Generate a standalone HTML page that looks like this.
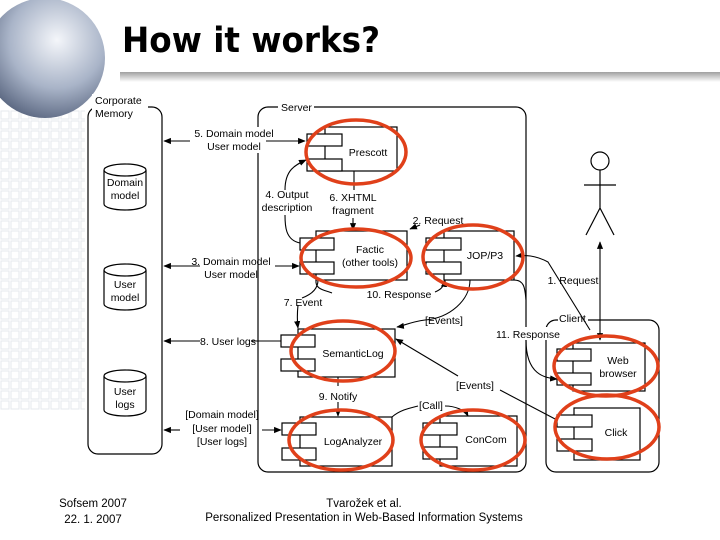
<!DOCTYPE html>
<html><head><meta charset="utf-8"><style>
html,body{margin:0;padding:0;background:#fff;width:720px;height:540px;overflow:hidden}
svg{display:block;font-family:"Liberation Sans",sans-serif}
</style></head><body>
<svg width="720" height="540" viewBox="0 0 720 540" xmlns="http://www.w3.org/2000/svg">
<defs>
<radialGradient id="g" cx="0.6" cy="0.35" r="0.8"><stop offset="0" stop-color="#f4f6fa"/><stop offset="0.5" stop-color="#a9b4c8"/><stop offset="1" stop-color="#3d4a66"/></radialGradient>
<linearGradient id="sh" x1="0" x2="0" y1="0" y2="1"><stop offset="0" stop-color="#777"/><stop offset="1" stop-color="#fff"/></linearGradient>
<marker id="a" viewBox="0 0 10 10" refX="9" refY="5" markerWidth="7" markerHeight="7" orient="auto-start-reverse"><path d="M0,1 L10,5 L0,9z" fill="#000"/></marker>
<pattern id="grid" width="10" height="10" patternUnits="userSpaceOnUse"><rect x="1" y="1" width="8" height="8" fill="none" stroke="#e6e8ee" stroke-width="1"/></pattern>
</defs>
<rect x="0" y="110" width="85" height="300" fill="url(#grid)"/>
<rect x="120" y="72" width="600" height="10" fill="url(#sh)" opacity="0.7"/>
<circle cx="45" cy="58" r="60" fill="url(#g)"/>
<text x="122" y="52" font-size="35" font-weight="bold" font-family="DejaVu Sans,sans-serif" textLength="258" lengthAdjust="spacingAndGlyphs">How it works?</text>

<g fill="none" stroke="#000" stroke-width="1.2">
<rect x="88" y="107" width="74" height="347" rx="10"/>
<rect x="258" y="107" width="268" height="365" rx="10"/>
<rect x="546" y="320" width="113" height="152" rx="10"/>
</g>
<rect x="92" y="94" width="56" height="26" fill="#fff"/>
<rect x="278" y="100" width="36" height="12" fill="#fff"/>
<rect x="558" y="313" width="30" height="12" fill="#fff"/>
<g font-size="10.5" fill="#000">
<text x="95" y="104">Corporate</text><text x="95" y="117">Memory</text>
<text x="281" y="111">Server</text>
<text x="559" y="322">Client</text>
</g>

<g fill="#fff" stroke="#000" stroke-width="1.2">
<path d="M104,170 v34 a21,6 0 0 0 42,0 v-34"/><ellipse cx="125" cy="170" rx="21" ry="6"/>
<path d="M104,270 v34 a21,6 0 0 0 42,0 v-34"/><ellipse cx="125" cy="270" rx="21" ry="6"/>
<path d="M104,376 v34 a21,6 0 0 0 42,0 v-34"/><ellipse cx="125" cy="376" rx="21" ry="6"/>
</g>
<g font-size="10.5" text-anchor="middle">
<text x="125" y="186">Domain</text><text x="125" y="199">model</text>
<text x="125" y="288">User</text><text x="125" y="301">model</text>
<text x="125" y="395">User</text><text x="125" y="408">logs</text>
</g>

<g fill="#fff" stroke="#000" stroke-width="1.2">
<rect x="325" y="127" width="72" height="44"/><rect x="307" y="134" width="35" height="12"/><rect x="307" y="159" width="35" height="12"/>
<rect x="316" y="231" width="91" height="49"/><rect x="300" y="238" width="34" height="12"/><rect x="300" y="262" width="34" height="12"/>
<rect x="444" y="231" width="70" height="49"/><rect x="426" y="238" width="35" height="12"/><rect x="426" y="262" width="35" height="12"/>
<rect x="298" y="329" width="97" height="48"/><rect x="281" y="335" width="34" height="12"/><rect x="281" y="359" width="34" height="12"/>
<rect x="300" y="417" width="92" height="49"/><rect x="282" y="423" width="34" height="12"/><rect x="282" y="448" width="34" height="12"/>
<rect x="440" y="416" width="77" height="50"/><rect x="423" y="423" width="34" height="12"/><rect x="423" y="447" width="34" height="12"/>
<rect x="573" y="343" width="72" height="48"/><rect x="557" y="349" width="34" height="12"/><rect x="557" y="373" width="34" height="12"/>
<rect x="574" y="408" width="66" height="52"/><rect x="557" y="415" width="35" height="12"/><rect x="557" y="439" width="35" height="12"/>
</g>
<g font-size="10.5" text-anchor="middle">
<text x="368" y="156">Prescott</text>
<text x="370" y="253">Factic</text><text x="370" y="266">(other tools)</text>
<text x="485" y="259">JOP/P3</text>
<text x="353" y="357">SemanticLog</text>
<text x="353" y="445">LogAnalyzer</text>
<text x="486" y="443">ConCom</text>
<text x="618" y="364">Web</text><text x="618" y="377">browser</text>
<text x="616" y="436">Click</text>
</g>

<g fill="none" stroke="#000" stroke-width="1.2">
<circle cx="600" cy="161" r="9"/>
<path d="M600,170 V208 M584,185 H616 M600,208 L586,235 M600,208 L614,235"/>
</g>

<g fill="none" stroke="#000" stroke-width="1.1">
<path d="M200,141 H164" marker-end="url(#a)"/><path d="M265,141 H305" marker-end="url(#a)"/>
<path d="M200,266 H164" marker-end="url(#a)"/><path d="M275,266 H299" marker-end="url(#a)"/>
<path d="M200,341 H164" marker-end="url(#a)"/><path d="M251,341 H281"/>
<path d="M180,430 H164" marker-end="url(#a)"/><path d="M262,430 H281" marker-end="url(#a)"/>
<path d="M300,243 C285,240 285,225 285,215 M285,190 C285,170 295,165 306,160" marker-end="url(#a)"/>
<path d="M354,171 V190 M353,218 V230" marker-end="url(#a)"/>
<path d="M420,225 L410,229" marker-end="url(#a)"/>
<path d="M316,280 C315,290 325,290 332,293"/><path d="M435,292 C440,290 444,287 445,280" marker-end="url(#a)"/>
<path d="M318,280 C318,290 310,295 302,298 M298,305 C297,315 297,320 298,328" marker-end="url(#a)"/>
<path d="M470,280 C470,300 450,318 425,320" />
<path d="M425,320 C410,322 403,326 397,327" marker-end="url(#a)"/>
<path d="M514,280 C525,280 525,290 526,300 M526,340 C526,375 545,378 557,379" marker-end="url(#a)"/>
<path d="M590,330 L548,262 C535,255 525,255 516,256" marker-end="url(#a)"/>
<path d="M600,242 V340" marker-start="url(#a)" marker-end="url(#a)"/>
<path d="M557,420 L500,390" /><path d="M458,376 L396,339" marker-end="url(#a)"/>
<path d="M338,377 V386 M338,402 V416" marker-end="url(#a)"/>
<path d="M392,417 C400,410 410,408 418,406 M445,406 C455,406 465,410 468,416" marker-end="url(#a)"/>
</g>
<g font-size="10.5" text-anchor="middle">
<rect x="190" y="127" width="76" height="26" fill="#fff"/>
<text x="234" y="137">5. Domain model</text><text x="234" y="150">User model</text>
<text x="287" y="198">4. Output</text><text x="287" y="211">description</text>
<text x="353" y="201">6. XHTML</text><text x="353" y="214">fragment</text>
<text x="438" y="224">2. Request</text>
<text x="231" y="265">3. Domain model</text><text x="231" y="278">User model</text>
<text x="303" y="306">7. Event</text>
<text x="399" y="298">10. Response</text>
<text x="444" y="324">[Events]</text>
<text x="573" y="284">1. Request</text>
<rect x="492" y="327" width="72" height="13" fill="#fff"/>
<text x="528" y="338">11. Response</text>
<text x="228" y="345">8. User logs</text>
<text x="338" y="400">9. Notify</text>
<text x="475" y="389">[Events]</text>
<text x="431" y="409">[Call]</text>
<text x="222" y="418">[Domain model]</text><text x="222" y="432">[User model]</text><text x="222" y="445">[User logs]</text>
</g>

<g fill="none" stroke="#e0401a" stroke-width="3.5">
<ellipse cx="356" cy="152" rx="50" ry="32"/>
<ellipse cx="356" cy="258" rx="55" ry="29"/>
<ellipse cx="473" cy="257" rx="50" ry="32"/>
<ellipse cx="343" cy="351" rx="52" ry="30"/>
<ellipse cx="341" cy="440" rx="52" ry="30"/>
<ellipse cx="473" cy="440" rx="52" ry="30"/>
<ellipse cx="606" cy="366" rx="52" ry="30"/>
<ellipse cx="607" cy="427" rx="52" ry="32"/>
</g>

<g font-size="11.5" text-anchor="middle">
<text x="93" y="507">Sofsem 2007</text><text x="93" y="523">22. 1. 2007</text>
<text x="364" y="507">Tvarožek et al.</text><text x="364" y="521">Personalized Presentation in Web-Based Information Systems</text>
</g>
</svg>
</body></html>
